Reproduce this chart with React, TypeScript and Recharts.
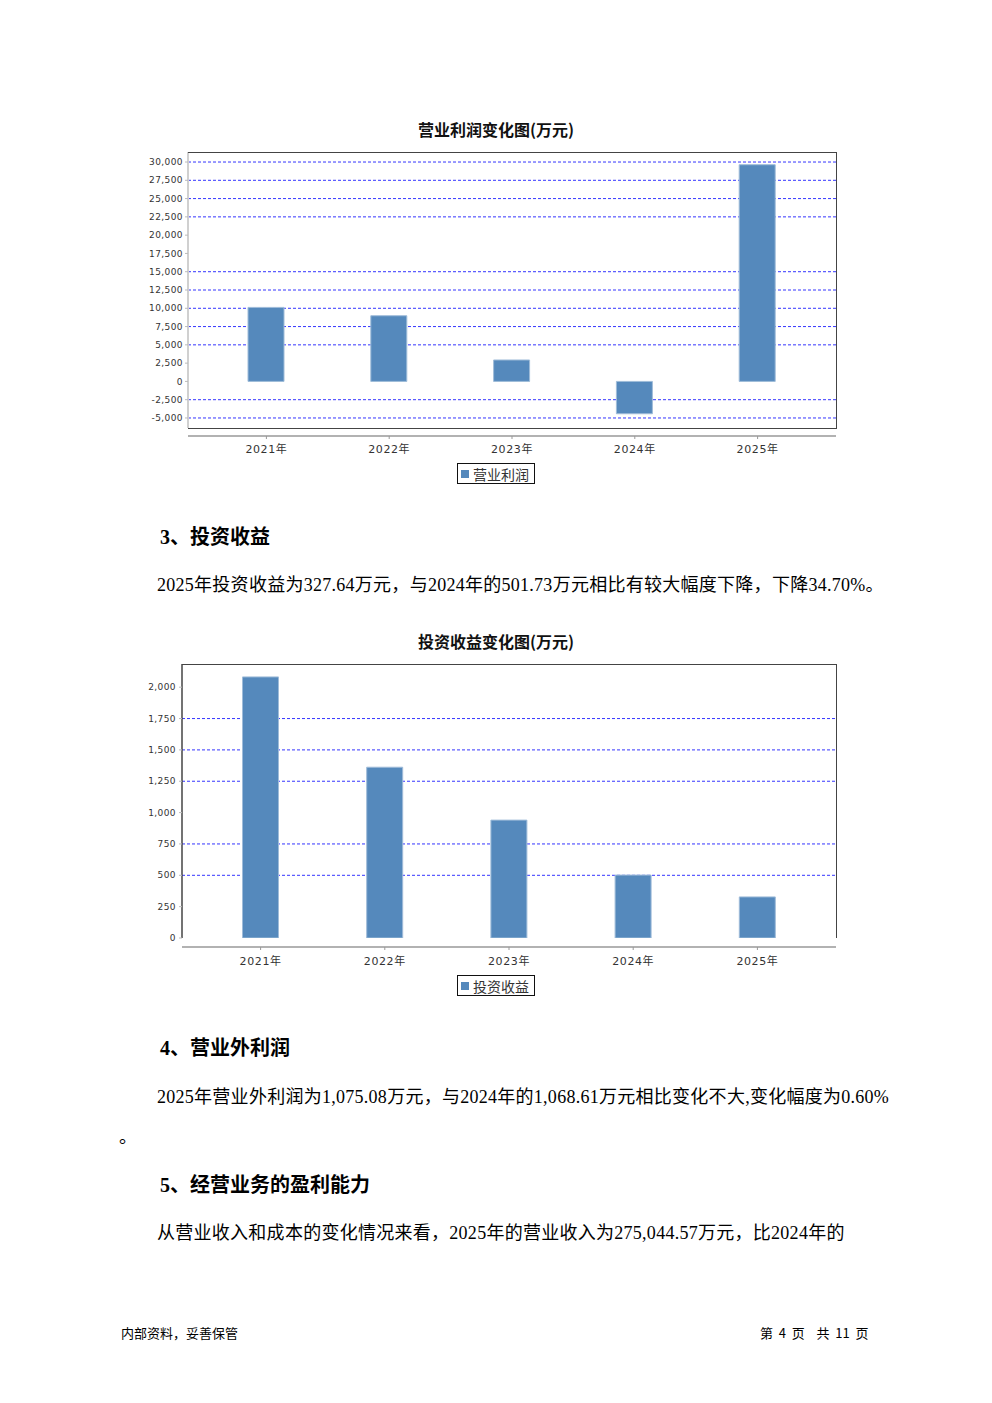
import React from "react";
import {
  BarChart,
  Bar,
  XAxis,
  YAxis,
  CartesianGrid,
  Legend,
} from "recharts";

// 两张图的数据（万元）
const years = ["2021年", "2022年", "2023年", "2024年", "2025年"];
const opProfit = [10120, 8980, 2930, -4420, 29630];
const invIncome = [2082, 1362, 940, 501.73, 327.64];

const opTicks = [-5000, -2500, 0, 2500, 5000, 7500, 10000, 12500, 15000, 17500, 20000, 22500, 25000, 27500, 30000];
const opGridLines = [-5000, -2500, 5000, 7500, 10000, 12500, 15000, 22500, 25000, 27500, 30000];
const invTicks = [0, 250, 500, 750, 1000, 1250, 1500, 1750, 2000];
const invGridLines = [500, 750, 1250, 1500, 1750];

const BAR = "#5589bc";
const CJK = '"Noto Sans CJK SC", sans-serif';
const BODY = '"Liberation Serif", "Noto Sans CJK SC", serif';

interface ChartProps {
  top: number;
  title: string;
  name: string;
  values: number[];
  domain: [number, number];
  ticks: number[];
  gridLines: number[];
  plotLeft: number;
  plotBottomGap: number;
  padX: number;
  axisShift: number;
  darkLeft: boolean;
  labelMargin: number;
  yTickMargin: number;
}

function LegendBox({ name }: { name: string }) {
  return (
    <div
      style={{
        display: "inline-flex",
        alignItems: "center",
        border: "1px solid #111",
        padding: "0 4px 0 3px",
        height: 21,
        width: 78,
        boxSizing: "border-box",
        fontFamily: CJK,
        fontSize: 14,
        color: "#333",
        background: "#fff",
      }}
    >
      <span style={{ width: 8, height: 8, background: BAR, display: "inline-block", marginRight: 4 }} />
      {name}
    </div>
  );
}

function ProfitChart(p: ChartProps) {
  const data = years.map((y, i) => ({ year: y, value: p.values[i] }));
  const H = 390;
  const yW = 60;
  const xH = 30;
  const plotTop = 42;
  const plotH = H - plotTop - p.plotBottomGap;
  const [lo, hi] = p.domain;
  // 只在部分刻度上画虚线网格，按 y 轴的线性比例换算
  const gridGen = ({ yAxis, offset }: any) =>
    p.gridLines.map((v) =>
      yAxis && typeof yAxis.scale === "function"
        ? yAxis.scale(v)
        : offset.top + ((hi - v) / (hi - lo)) * offset.height
    );
  return (
    <div style={{ position: "absolute", left: 0, top: p.top, width: 992, height: H }}>
      <div
        style={{
          position: "absolute",
          left: 0,
          width: 992,
          top: 7,
          textAlign: "center",
          fontFamily: CJK,
          fontWeight: 700,
          fontSize: 16,
          lineHeight: "24px",
          color: "#111",
        }}
      >
        {p.title}
      </div>
      <BarChart
        width={992}
        height={H}
        data={data}
        margin={{ top: plotTop, left: p.plotLeft - yW, right: 156, bottom: p.plotBottomGap - xH }}
      >
        <CartesianGrid
          vertical={false}
          horizontalCoordinatesGenerator={gridGen}
          stroke="#3535ff"
          strokeDasharray="3 2"
        />
        <XAxis
          dataKey="year"
          height={xH}
          padding={{ left: p.padX, right: p.padX }}
          axisLine={{ stroke: "#999", strokeWidth: 1.5, transform: `translate(0,${p.axisShift})` }}
          tickLine={{ stroke: "#999", transform: `translate(0,${p.axisShift})` }}
          tickSize={3}
          tickMargin={p.labelMargin}
          tick={{ fontSize: 11, fill: "#333", fontFamily: '"DejaVu Sans", "Noto Sans CJK SC"', letterSpacing: 0.6 }}
        />
        <YAxis
          width={yW}
          domain={p.domain}
          ticks={p.ticks}
          allowDataOverflow
          interval={0}
          axisLine={p.darkLeft ? { stroke: "#444", strokeWidth: 1.5 } : { stroke: "#d0d0d0", strokeWidth: 2 }}
          tickLine={{ stroke: "#bbb" }}
          tickSize={3}
          tickMargin={p.yTickMargin}
          tickFormatter={(v: number) => v.toLocaleString("en-US")}
          tick={{ fontSize: 9, fill: "#333", fontFamily: '"DejaVu Sans"', letterSpacing: 0.4 }}
        />
        <Legend
          layout="horizontal"
          verticalAlign="middle"
          align="center"
          wrapperStyle={{ top: 353, left: 457, width: "auto", height: "auto" }}
          content={() => <LegendBox name={p.name} />}
        />
        <Bar dataKey="value" name={p.name} fill={BAR} stroke="#9fbcd9" strokeWidth={1} barSize={36} isAnimationActive={false} />
      </BarChart>
      <div
        style={{
          position: "absolute",
          left: p.plotLeft,
          top: plotTop,
          width: 836 - p.plotLeft + 1,
          height: plotH + (p.darkLeft ? 0 : 1),
          boxSizing: "border-box",
          borderTop: "1px solid #444",
          borderRight: "1px solid #444",
          borderBottom: p.darkLeft ? "none" : "1px solid #444",
          pointerEvents: "none",
        }}
      />
    </div>
  );
}

const H2: React.CSSProperties = {
  position: "absolute",
  left: 160,
  fontFamily: BODY,
  fontWeight: 700,
  fontSize: 20,
  color: "#000",
  whiteSpace: "nowrap",
  lineHeight: "24px",
};

const P: React.CSSProperties = {
  position: "absolute",
  left: 157,
  fontFamily: BODY,
  fontSize: 18,
  letterSpacing: 0.27,
  color: "#000",
  whiteSpace: "nowrap",
  lineHeight: "24px",
};

const FOOT: React.CSSProperties = {
  position: "absolute",
  fontFamily: CJK,
  fontSize: 13,
  color: "#000",
  whiteSpace: "pre",
  lineHeight: "16px",
};

export default function App() {
  return (
    <div style={{ position: "absolute", left: 0, top: 0, width: 992, height: 1403, background: "#fff", overflow: "hidden" }}>
      <ProfitChart
        top={110}
        title="营业利润变化图(万元)"
        name="营业利润"
        values={opProfit}
        domain={[-6370, 31370]}
        ticks={opTicks}
        gridLines={opGridLines}
        plotLeft={188}
        plotBottomGap={72}
        padX={17}
        axisShift={8}
        darkLeft={false}
        labelMargin={14}
        yTickMargin={2}
      />
      <div style={{ ...H2, top: 525 }}>3、投资收益</div>
      <div style={{ ...P, top: 573 }}>
        2025年投资收益为327.64万元，与2024年的501.73万元相比有较大幅度下降，下降34.70%。
      </div>
      <ProfitChart
        top={622}
        title="投资收益变化图(万元)"
        name="投资收益"
        values={invIncome}
        domain={[0, 2185]}
        ticks={invTicks}
        gridLines={invGridLines}
        plotLeft={182}
        plotBottomGap={74}
        padX={16.5}
        axisShift={9}
        darkLeft={true}
        labelMargin={16}
        yTickMargin={3}
      />
      <div style={{ ...H2, top: 1036 }}>4、营业外利润</div>
      <div style={{ ...P, top: 1085 }}>
        2025年营业外利润为1,075.08万元，与2024年的1,068.61万元相比变化不大,变化幅度为0.60%
      </div>
      <div style={{ ...P, left: 119, top: 1125 }}>。</div>
      <div style={{ ...H2, top: 1173 }}>5、经营业务的盈利能力</div>
      <div style={{ ...P, top: 1221 }}>
        从营业收入和成本的变化情况来看，2025年的营业收入为275,044.57万元，比2024年的
      </div>
      <div style={{ ...FOOT, left: 121, top: 1325 }}>内部资料，妥善保管</div>
      <div style={{ ...FOOT, left: 760, top: 1325 }}>{"第  4  页    共  11  页"}</div>
    </div>
  );
}
